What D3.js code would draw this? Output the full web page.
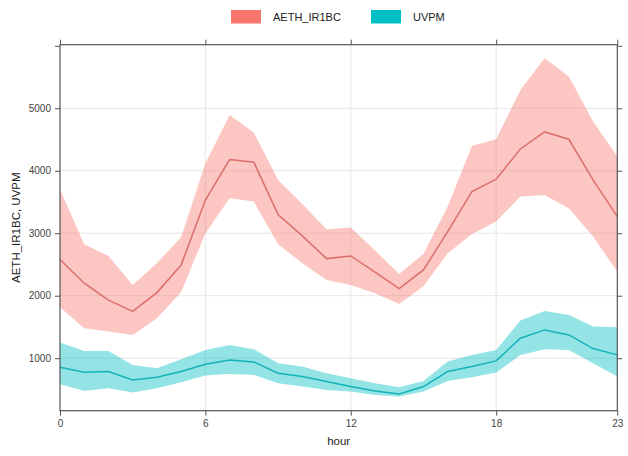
<!DOCTYPE html>
<html>
<head>
<meta charset="utf-8">
<script src="https://cdn.jsdelivr.net/npm/d3@7"></script>
<style>
  html, body { margin: 0; padding: 0; background: #fff; }
  svg { display: block; font-family: "Liberation Sans", Arial, sans-serif; }
</style>
</head>
<body>
<svg id="chart" width="628" height="456"></svg>
<script>
// Hourly means with confidence bands
const hours = d3.range(0, 24);
const aethMean  = [2580, 2200, 1930, 1750, 2050, 2490, 3530, 4180, 4135, 3300, 2957, 2594,
                   2637, 2376, 2114, 2413, 3026, 3666, 3864, 4349, 4621, 4504, 3853, 3266];
const aethUpper = [3700, 2824, 2637, 2173, 2520, 2936, 4120, 4893, 4610, 3853, 3469, 3064,
                   3090, 2722, 2349, 2669, 3426, 4397, 4504, 5293, 5800, 5507, 4786, 4226];
const aethLower = [1816, 1480, 1426, 1373, 1640, 2060, 3000, 3560, 3506, 2824, 2520, 2253,
                   2173, 2040, 1869, 2150, 2680, 2989, 3186, 3586, 3613, 3400, 2946, 2386];
const uvpmMean  = [856, 776, 786, 653, 696, 786, 904, 973, 941, 760, 706, 626,
                   546, 477, 429, 546, 786, 866, 957, 1320, 1453, 1373, 1154, 1053];
const uvpmUpper = [1250, 1117, 1117, 893, 840, 984, 1133, 1213, 1144, 920, 866, 760,
                   680, 600, 536, 637, 946, 1053, 1133, 1602, 1757, 1693, 1506, 1496];
const uvpmLower = [584, 477, 520, 450, 520, 616, 722, 749, 733, 600, 546, 493,
                   466, 413, 386, 466, 637, 696, 770, 1053, 1144, 1133, 920, 706];

const seriesNames = ["AETH_IR1BC", "UVPM"];
const xTicks = [0, 6, 12, 18, 23];
const yTicks = [1000, 2000, 3000, 4000, 5000, 6000];
const yLabelTicks = [1000, 2000, 3000, 4000, 5000];

const series = [
  { name: seriesNames[0], mean: aethMean, upper: aethUpper, lower: aethLower,
    fill: "#F8766D", line: "#DC6F6A" },
  { name: seriesNames[1], mean: uvpmMean, upper: uvpmUpper, lower: uvpmLower,
    fill: "#00BFC4", line: "#14B3B8" }
];

const svg = d3.select("#chart");
const W = 628, H = 456;
const margin = { left: 60, right: 628 - 617.3, top: 44.7, bottom: 456 - 410.7 };

const x = d3.scaleLinear().domain([0, 23]).range([margin.left, W - margin.right]);
const y = d3.scaleLinear().domain([160, 6017]).range([H - margin.bottom, margin.top]);

// grid
const grid = svg.append("g");
grid.selectAll("line.gx").data(xTicks.slice(1, -1)).join("line")
  .attr("x1", d => x(d)).attr("x2", d => x(d))
  .attr("y1", margin.top).attr("y2", H - margin.bottom)
  .attr("stroke", "#e6e6e6").attr("stroke-width", 1);
grid.selectAll("line.gy").data(yLabelTicks).join("line")
  .attr("x1", margin.left).attr("x2", W - margin.right)
  .attr("y1", d => y(d)).attr("y2", d => y(d))
  .attr("stroke", "#e6e6e6").attr("stroke-width", 1);

// bands and lines
const bandPath = (s) => d3.area()
  .x((d, i) => x(hours[i]))
  .y0((d, i) => y(s.lower[i]))
  .y1((d, i) => y(s.upper[i]));
const meanPath = (s) => d3.line()
  .x((d, i) => x(hours[i]))
  .y((d, i) => y(s.mean[i]));

series.forEach(s => {
  svg.append("path").datum(s.mean).attr("d", bandPath(s))
    .attr("fill", s.fill).attr("fill-opacity", 0.42).attr("stroke", "none");
});
series.forEach(s => {
  svg.append("path").datum(s.mean).attr("d", meanPath(s))
    .attr("fill", "none").attr("stroke", s.line).attr("stroke-width", 1.5);
});

// axes
const axisColor = "#555";
const tickFont = 10;
const tickColor = "#444";

const axBottom = svg.append("g").attr("transform", `translate(0,${H - margin.bottom})`)
  .call(d3.axisBottom(x).tickValues(xTicks).tickSize(5).tickPadding(4).tickSizeOuter(0));
const axTop = svg.append("g").attr("transform", `translate(0,${margin.top})`)
  .call(d3.axisTop(x).tickValues(xTicks).tickSize(5).tickFormat("").tickSizeOuter(0));
const axLeft = svg.append("g").attr("transform", `translate(${margin.left},0)`)
  .call(d3.axisLeft(y).tickValues(yTicks).tickSize(5).tickPadding(4).tickSizeOuter(0)
    .tickFormat(d => yLabelTicks.includes(d) ? d : ""));
const axRight = svg.append("g").attr("transform", `translate(${W - margin.right},0)`)
  .call(d3.axisRight(y).tickValues(yTicks).tickSize(5).tickFormat("").tickSizeOuter(0));

[axBottom, axTop, axLeft, axRight].forEach(g => {
  g.select(".domain").remove();
  g.selectAll("line").attr("stroke", axisColor);
  g.selectAll("text").attr("fill", tickColor).style("font-size", tickFont + "px")
    .style("font-family", "'Liberation Sans', Arial, sans-serif");
});

// frame
svg.append("rect")
  .attr("x", margin.left).attr("y", margin.top)
  .attr("width", W - margin.right - margin.left).attr("height", H - margin.bottom - margin.top)
  .attr("fill", "none").attr("stroke", axisColor).attr("stroke-width", 1.2);

// axis titles
svg.append("text").attr("x", (margin.left + W - margin.right) / 2).attr("y", 445)
  .attr("text-anchor", "middle").attr("fill", "#222").style("font-size", "11.5px")
  .text("hour");
svg.append("text")
  .attr("transform", `translate(20,${(margin.top + H - margin.bottom) / 2}) rotate(-90)`)
  .attr("text-anchor", "middle").attr("fill", "#222").style("font-size", "11.5px")
  .text(seriesNames.join(", "));

// legend
const legendX = [231, 371];
const legend = svg.append("g");
series.forEach((s, i) => {
  legend.append("rect").attr("x", legendX[i]).attr("y", 10)
    .attr("width", 30).attr("height", 13.5).attr("fill", s.fill);
  legend.append("text").attr("x", legendX[i] + 42).attr("y", 21)
    .attr("fill", "#222").style("font-size", "11px").text(s.name);
});
</script>
</body>
</html>
